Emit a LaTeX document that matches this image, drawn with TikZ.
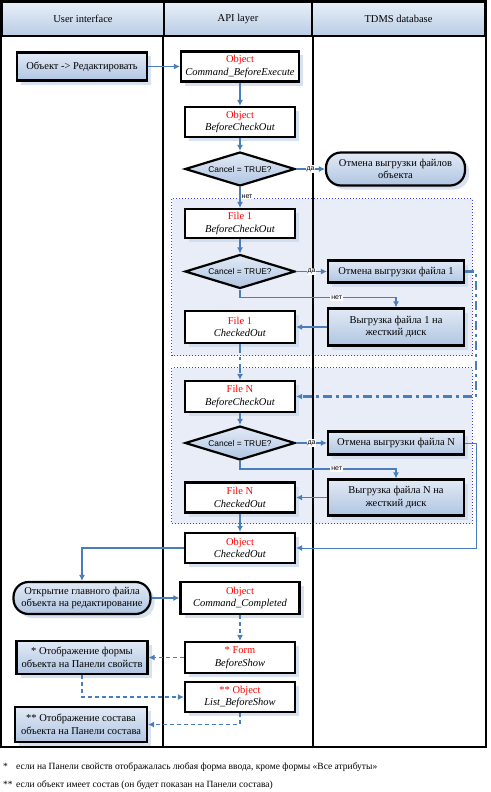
\documentclass[tikz,border=0pt]{standalone}
\usepackage{fontspec}
\setmainfont{Liberation Serif}
\newfontfamily\sansfont{Liberation Sans}
\usetikzlibrary{shadows, arrows.meta, positioning, calc, shapes.geometric, backgrounds}
\definecolor{flowblue}{RGB}{74,126,187}
\definecolor{boxlight}{RGB}{226,234,245}
\definecolor{boxdark}{RGB}{176,197,226}
\definecolor{headlight}{RGB}{232,239,248}
\definecolor{headdark}{RGB}{184,204,228}
\definecolor{groupfill}{RGB}{232,237,247}
\definecolor{groupline}{RGB}{60,60,255}
\definecolor{ghost}{RGB}{205,218,236}

\tikzset{
  lanehead/.style={draw, line width=2pt, top color=headlight, bottom color=headdark, minimum height=34pt, font=\fontsize{10.5}{12}\selectfont},
  lane/.style={line width=2pt},
  base/.style={draw, line width=2.2pt, align=center, inner sep=1pt, font=\fontsize{10.5}{12.5}\selectfont, drop shadow={shadow xshift=4pt, shadow yshift=-4pt, fill=ghost, opacity=0.8}},
  apibox/.style={base, fill=white, minimum width=110pt, minimum height=30pt},
  uibox/.style={base, top color=boxlight, bottom color=boxdark},
  roundbox/.style={uibox, rounded corners=15pt},
  decision/.style={draw, diamond, line width=2.2pt, top color=boxlight, bottom color=boxdark, aspect=3.2, minimum width=110pt, minimum height=34pt, inner sep=0pt, font=\sansfont\fontsize{8.4}{9}\selectfont},
  flow/.style={draw=flowblue, line width=1.4pt, -{Latex[length=6pt, width=6pt]}},
  weak/.style={flow, dash pattern=on 4pt off 3pt},
  loopback/.style={flow, line width=2.2pt, dash pattern=on 9pt off 4pt on 3pt off 4pt},
  answer/.style={fill=white, inner sep=1pt, font=\sansfont\fontsize{7}{8}\selectfont},
  group/.style={draw=groupline, dotted, line width=1pt, fill=groupfill},
  note/.style={anchor=west, inner sep=0pt, font=\fontsize{9.5}{11}\selectfont}
}

\begin{document}
\begin{tikzpicture}[x=1pt, y=-1pt]
\useasboundingbox (0,0) rectangle (490,792);

% swimlanes
\node[lanehead, minimum width=162pt] (hui) at (83,19) {User interface};
\node[lanehead, minimum width=148pt] (hapi) at (238,19) {API layer};
\node[lanehead, minimum width=173pt] (hdb) at (398.5,19) {TDMS database};
\coordinate (bottom) at (0,747);
\draw[lane] (hui.north west) rectangle (hdb.east |- bottom);
\draw[lane] (hapi.south west) -- (hapi.south west |- bottom);
\draw[lane] (hapi.south east) -- (hapi.south east |- bottom);

% user interface
\node[uibox, minimum width=130pt, minimum height=28pt] (edit) at (82,66.5) {Объект -> Редактировать};
\node[roundbox, minimum width=137pt, minimum height=32pt] (open) at (82,598) {Открытие главного файла\\объекта на редактирование};
\node[uibox, minimum width=131pt, minimum height=33pt] (fui) at (82,657.5) {* Отображение формы\\объекта на Панели свойств};
\node[uibox, minimum width=132pt, minimum height=35pt] (sui) at (81,724.5) {** Отображение состава\\объекта на Панели состава};

% api layer
\node[apibox, minimum width=118pt] (cbe) at (240,66.5) {\textcolor{red}{Object}\\\textit{Command\_BeforeExecute}};
\node[apibox] (obco) at (240,122) {\textcolor{red}{Object}\\\textit{BeforeCheckOut}};
\node[decision] (d0) at (240,169) {Cancel = TRUE?};
\node[apibox, minimum height=29pt] (f1b) at (240,223.5) {\textcolor{red}{File 1}\\\textit{BeforeCheckOut}};
\node[decision] (d1) at (240,271.5) {Cancel = TRUE?};
\node[apibox, minimum height=32pt] (f1c) at (240,327) {\textcolor{red}{File 1}\\\textit{CheckedOut}};
\node[apibox, minimum height=31pt] (fNb) at (240,396.5) {\textcolor{red}{File N}\\\textit{BeforeCheckOut}};
\node[decision] (dN) at (240,443) {Cancel = TRUE?};
\node[apibox] (fNc) at (240,497.5) {\textcolor{red}{File N}\\\textit{CheckedOut}};
\node[apibox] (oco) at (240,548) {\textcolor{red}{Object}\\\textit{CheckedOut}};
\node[apibox, minimum width=119pt, minimum height=32pt] (ccm) at (240,598) {\textcolor{red}{Object}\\\textit{Command\_Completed}};
\node[apibox, minimum height=31pt] (form) at (240,657.5) {\textcolor{red}{* Form}\\\textit{BeforeShow}};
\node[apibox] (list) at (240,697) {\textcolor{red}{** Object}\\\textit{List\_BeforeShow}};

% tdms database
\node[roundbox, minimum width=139pt, minimum height=33pt] (c0) at (395.5,169) {Отмена выгрузки файлов\\объекта};
\node[uibox, minimum width=136pt, minimum height=22pt] (c1) at (396,271.5) {Отмена выгрузки файла 1};
\node[uibox, minimum width=136pt, minimum height=37pt] (dl1) at (396,327) {Выгрузка файла 1 на\\жесткий диск};
\node[uibox, minimum width=136pt, minimum height=23pt] (cN) at (396,443) {Отмена выгрузки файла N};
\node[uibox, minimum width=136pt, minimum height=36pt] (dlN) at (396,497.5) {Выгрузка файла N на\\жесткий диск};

% file loops
\begin{scope}[on background layer]
\draw[group] ($(f1b.north west)+(-12,-9)$) rectangle ($(dl1.south east)+(7,9)$);
\draw[group] ($(fNb.north west)+(-12,-12)$) rectangle ($(dlN.south east)+(7,7)$);
\end{scope}

\draw[flow] (edit) -- (cbe);
\draw[flow] (cbe) -- (obco);
\draw[flow] (obco) -- (d0);
\draw[flow] (d0) -- node[answer] {да} (c0);
\draw[flow] (d0) -- node[answer, anchor=west, pos=0.45] {нет} (f1b);

\draw[flow] (f1b) -- (d1);
\draw[flow] (d1) -- node[answer] {да} (c1);
\draw[flow] (d1.south) -- ++(0,8) -| node[answer, pos=0.31] {нет} (dl1.north);
\draw[flow] (dl1) -- (f1c);
\draw[loopback] (f1c) -- (fNb);
\draw[loopback] (c1.east) -- ++(11,0) |- (fNb.east);

\draw[flow] (fNb) -- (dN);
\draw[flow] (dN) -- node[answer] {да} (cN);
\draw[flow] (dN.south) -- ++(0,8) -| node[answer, pos=0.31] {нет} (dlN.north);
\draw[flow] (dlN) -- (fNc);
\draw[flow] (fNc) -- (oco);
\draw[flow, line width=1pt] (cN.east) -- ++(11,0) |- (oco.east);

\draw[flow] (oco.west) -| (open.north);
\draw[flow] (open) -- (ccm);
\draw[weak] (ccm) -- (form);
\draw[weak] (form) -- (fui);
\draw[weak] (fui.south) |- (list.west);
\draw[weak] (list.south) |- (sui.east);

% footnotes
\node[note] (n1) at (3,767) {\makebox[13pt][l]{*}если на Панели свойств отображалась любая форма ввода, кроме формы «Все атрибуты»};
\node[note] (n2) at (3,785) {\makebox[13pt][l]{**}если объект имеет состав (он будет показан на Панели состава)};
\end{tikzpicture}
\end{document}
